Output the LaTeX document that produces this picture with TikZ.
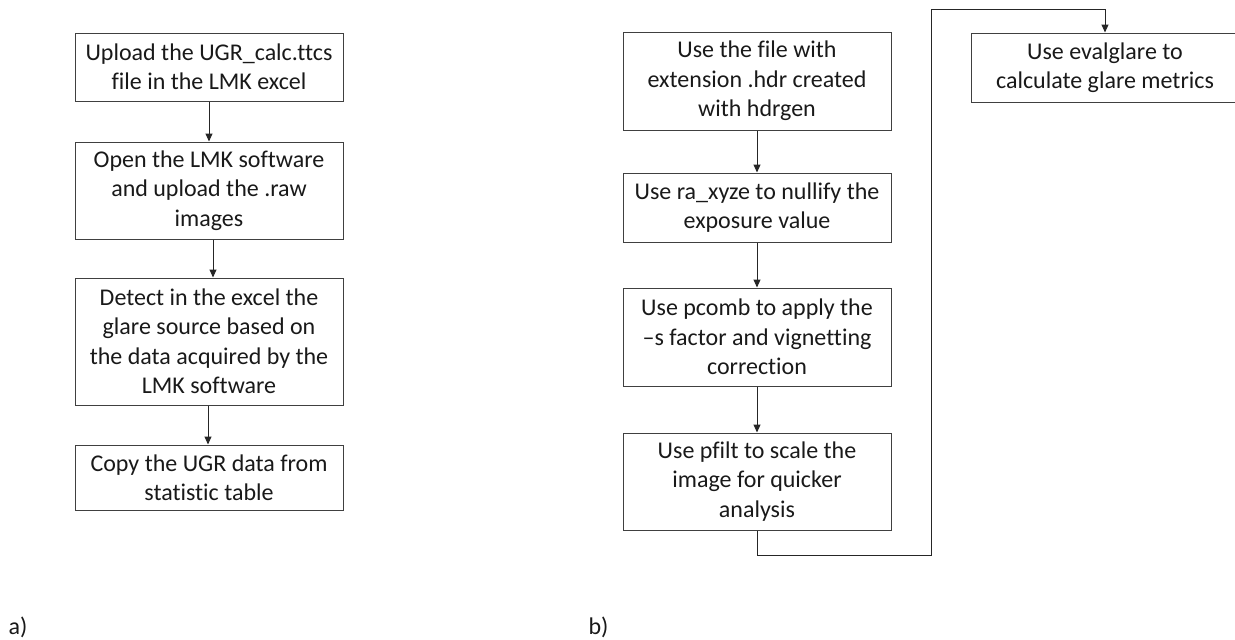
\documentclass[tikz,border=0pt]{standalone}
\usepackage{fontspec}
\setmainfont[Ligatures={NoCommon}]{Carlito}
\usetikzlibrary{arrows.meta}
\begin{document}
\begin{tikzpicture}[x=1pt,y=-1pt,
  box/.style={draw=black!75,line width=1pt,minimum width=268pt,inner sep=0pt,
    align=center,font=\fontsize{24}{29.5}\selectfont,text=black!90},
  conn/.style={draw=black!85,line width=1pt,-{Triangle[length=8pt,width=7pt]}},
  lab/.style={font=\fontsize{24}{28}\selectfont,text=black!90}]
\useasboundingbox (0,0) rectangle (1235,640);
% left column
\node[box,minimum height=68pt] (L1) at (209,67) {Upload the UGR\_calc.ttcs\\file in the LMK excel};
\node[box,minimum height=97pt] (L2) at (209,190.5) {Open the LMK software\\and upload the .raw\\images};
\node[box,minimum height=127pt] (L3) at (209,341.5) {Detect in the excel the\\glare source based on\\the data acquired by the\\LMK software};
\node[box,minimum height=65pt] (L4) at (209,477.5) {Copy the UGR data from\\statistic table};
\draw[conn] (L1.south) -- (L2.north);
\draw[conn] ([xshift=4pt]L2.south) -- ([xshift=4pt]L3.north);
\draw[conn] ([xshift=-1pt]L3.south) -- ([xshift=-1pt]L4.north);
% right column
\node[box,minimum height=98pt] (R1) at (757,81) {Use the file with\\extension .hdr created\\with hdrgen};
\node[box,minimum height=69pt] (R2) at (757,207.5) {Use ra\_xyze to nullify the\\exposure value};
\node[box,minimum height=98pt] (R3) at (757,337) {Use pcomb to apply the\\–s factor and vignetting\\correction};
\node[box,minimum height=97pt] (R4) at (757,481.5) {Use pfilt to scale the\\image for quicker\\analysis};
\node[box,minimum height=69pt] (R5) at (1105,67.5) {Use evalglare to\\calculate glare metrics};
\draw[conn] (R1.south) -- (R2.north);
\draw[conn] (R2.south) -- (R3.north);
\draw[conn] (R3.south) -- (R4.north);
\coordinate (c1) at (757,555);
\coordinate (c2) at (931,555);
\coordinate (c3) at (931,9);
\coordinate (c4) at (1105,9);
\draw[conn] (R4.south) -- (c1) -- (c2) -- (c3) -- (c4) -- (R5.north);
% labels
\node[lab,anchor=west] (la) at (5,627) {a)};
\node[lab,anchor=west] (lb) at (585,627) {b)};
\end{tikzpicture}
\end{document}
